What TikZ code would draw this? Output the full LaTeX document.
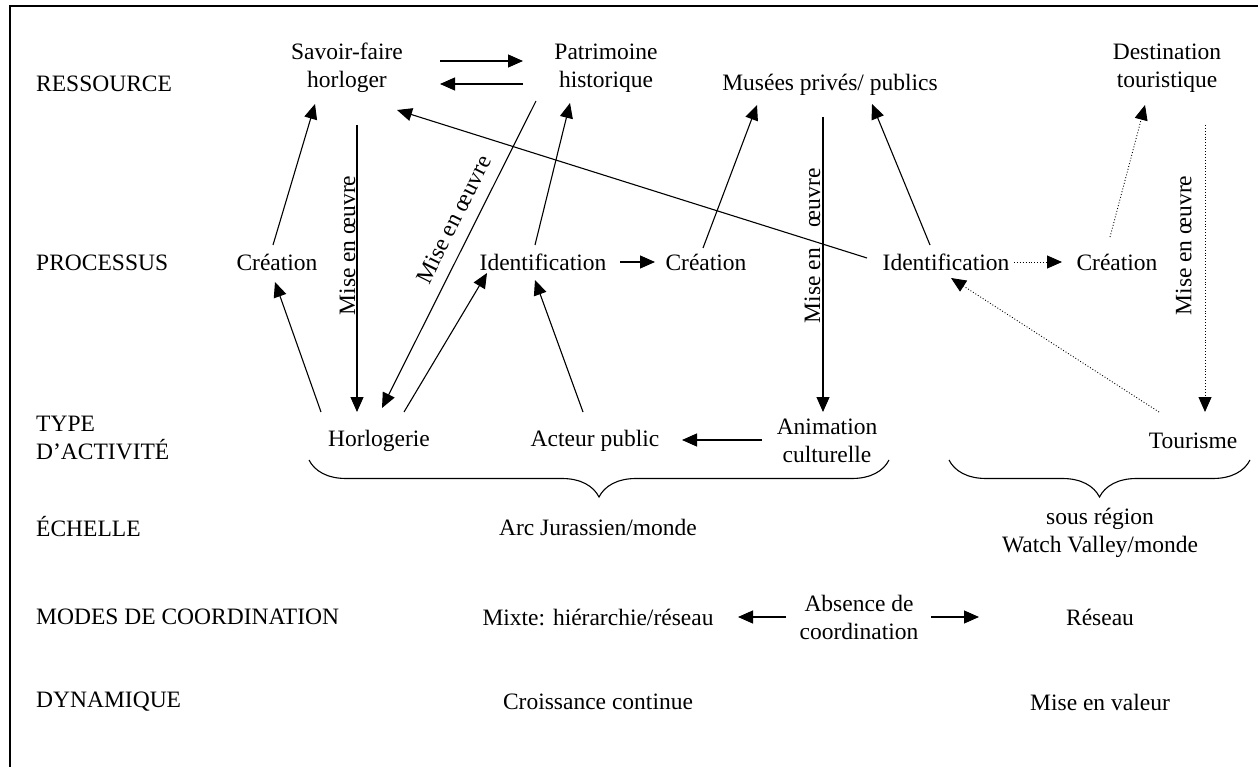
\documentclass[tikz,border=0pt]{standalone}
\usepackage{fontspec}
\setmainfont{Liberation Serif}
\usetikzlibrary{arrows.meta,decorations.pathreplacing}
\begin{document}
\begin{tikzpicture}[x=1pt,y=-1pt,
  every node/.style={font=\fontsize{23.5}{28}\selectfont, inner sep=0pt, align=center},
  side/.style={anchor=west, align=left},
  arr/.style={line width=1.1pt, -{Triangle[length=15pt,width=13pt]}},
  dotarr/.style={line width=0.9pt, dotted, -{Triangle[length=15pt,width=13pt]}},
  bracedeco/.style={line width=1.1pt, decorate, decoration={brace, amplitude=37pt}}]
\useasboundingbox (0,0) rectangle (1258,767);
% frame (top and left edges)
\draw[line width=1.5pt] (10,767) -- (10,6) -- (1258,6);

% row titles
\node[side] (tres) at (36,84) {RESSOURCE};
\node[side] (tproc) at (36,263) {PROCESSUS};
\node[side] (ttype) at (36,438) {TYPE\\D’ACTIVITÉ};
\node[side] (tech) at (36,527) {ÉCHELLE};
\node[side] (tmod) at (36,617) {MODES DE COORDINATION};
\node[side] (tdyn) at (36,702) {DYNAMIQUE};

% resources
\node (sav) at (347,68) {Savoir-faire\\horloger};
\node (pat) at (606,68) {Patrimoine\\historique};
\node (mus) at (830,85) {Musées privés/ publics};
\node (dest) at (1167,68) {Destination\\touristique};

% processes
\node (cre1) at (277,262) {Création};
\node (id1) at (543,262) {Identification};
\node (cre2) at (706,262) {Création};
\node (id2) at (946,262) {Identification};
\node (cre3) at (1117,262) {Création};

% activities
\node (hor) at (379,441) {Horlogerie};
\node (act) at (595,441) {Acteur public};
\node (anim) at (827,441) {Animation\\culturelle};
\node (tour) at (1193,441) {Tourisme};

% scale, coordination, dynamics
\node (arc) at (598,527) {Arc Jurassien/monde};
\node (sous) at (1100,533) {sous région\\Watch Valley/monde};
\node (mixte) at (598,617) {Mixte: hiérarchie/réseau};
\node (abs) at (859,617) {Absence de\\coordination};
\node (res) at (1100,617) {Réseau};
\node (croi) at (598,702) {Croissance continue};
\node (val) at (1100,702) {Mise en valeur};

% solid links
\draw[arr] ([shift={(93,-7)}]sav.center) -- ([shift={(-83,-7)}]pat.center);
\draw[arr] ([shift={(-83,16)}]pat.center) -- ([shift={(93,16)}]sav.center);
\draw[arr] ([shift={(-4,-17)}]cre1.center) -- ([shift={(-32,36)}]sav.center);
\draw[arr] ([shift={(10,57)}]sav.center) -- node[pos=0.42, rotate=90, anchor=south, yshift=1pt] {Mise en œuvre} ([shift={(-22,-29)}]hor.center);
\draw[arr] ([shift={(-58,-29)}]hor.center) -- ([shift={(-2,20)}]cre1.center);
\draw[arr] ([shift={(-70,33)}]pat.center) -- node[pos=0.416, rotate=63.4, anchor=south, yshift=12pt] {Mise en œuvre} ([shift={(3,-33)}]hor.center);
\draw[arr] ([shift={(25,-29)}]hor.center) -- ([shift={(-56,11)}]id1.center);
\draw[arr] ([shift={(-8,-17)}]id1.center) -- ([shift={(-36,35)}]pat.center);
\draw[arr] ([shift={(-12,-29)}]act.center) -- ([shift={(-8,18)}]id1.center);
\draw[arr] ([shift={(77,0)}]id1.center) -- ([shift={(-51,0)}]cre2.center);
\draw[arr] ([shift={(-3,-14)}]cre2.center) -- ([shift={(-73,20)}]mus.center);
\draw[arr] ([shift={(-7,32)}]mus.center) -- node[pos=0.437, rotate=90, anchor=south, yshift=2pt] {Mise en\hspace{21pt}œuvre} ([shift={(-4,-29)}]anim.center);
\draw[arr] ([shift={(-79,-4)}]id2.center) -- ([shift={(50,42)}]sav.center);
\draw[arr] ([shift={(-16,-17)}]id2.center) -- ([shift={(42,19)}]mus.center);
\draw[arr] ([shift={(-65,-1)}]anim.center) -- ([shift={(87,-1)}]act.center);
\draw[arr] ([shift={(-73,0)}]abs.center) -- ([shift={(140,0)}]mixte.center);
\draw[arr] ([shift={(72,0)}]abs.center) -- ([shift={(-121,0)}]res.center);

% dotted links (tourism)
\draw[dotarr] ([shift={(68,0)}]id2.center) -- ([shift={(-55,0)}]cre3.center);
\draw[dotarr] ([shift={(-7,-25)}]cre3.center) -- ([shift={(-22,37)}]dest.center);
\draw[dotarr] ([shift={(38,57)}]dest.center) -- node[pos=0.42, rotate=90, anchor=south, yshift=13pt] {Mise en œuvre} ([shift={(12,-29)}]tour.center);
\draw[dotarr] ([shift={(-34,-29)}]tour.center) -- ([shift={(5,16)}]id2.center);

% grouping braces
\draw[bracedeco] (889,460) -- (309,460);
\draw[bracedeco] (1250,460) -- (949,460);
\end{tikzpicture}
\end{document}
